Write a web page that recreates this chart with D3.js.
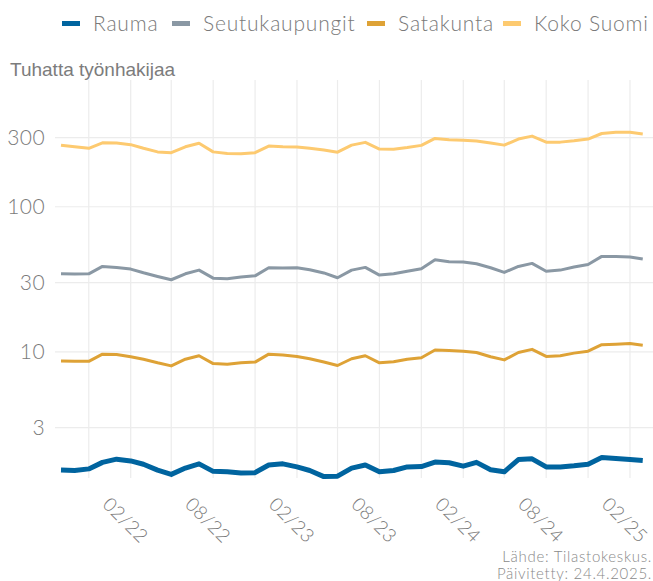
<!DOCTYPE html>
<html>
<head>
<meta charset="utf-8">
<script src="https://cdn.jsdelivr.net/npm/d3@7"></script>
<style>
  body { margin: 0; background: #fff; }
  text { font-family: Lato, "Open Sans", sans-serif; font-weight: 300; fill: #7a7a7a; }
</style>
</head>
<body>
<script>
// kuukaudet 09/2021 - 03/2025
const months = ["2021-09","2021-10","2021-11","2021-12","2022-01","2022-02","2022-03","2022-04","2022-05","2022-06","2022-07","2022-08",
  "2022-09","2022-10","2022-11","2022-12","2023-01","2023-02","2023-03","2023-04","2023-05","2023-06","2023-07","2023-08",
  "2023-09","2023-10","2023-11","2023-12","2024-01","2024-02","2024-03","2024-04","2024-05","2024-06","2024-07","2024-08",
  "2024-09","2024-10","2024-11","2024-12","2025-01","2025-02","2025-03"];

const rauma = [1.53,1.52,1.56,1.73,1.82,1.77,1.68,1.53,1.43,1.58,1.69,1.50,
  1.49,1.46,1.47,1.66,1.69,1.61,1.52,1.38,1.39,1.58,1.66,1.49,
  1.52,1.61,1.62,1.74,1.72,1.63,1.73,1.54,1.49,1.81,1.83,1.61,
  1.61,1.64,1.68,1.87,1.84,1.81,1.78];
const seutukaupungit = [34.5,34.4,34.5,38.8,38.2,37.2,35.1,33.1,31.4,34.5,36.6,32.2,
  31.9,32.8,33.4,38.0,37.8,38.0,36.8,35.0,32.4,36.6,38.2,33.8,
  34.5,35.9,37.4,43.1,41.8,41.6,40.5,38.0,35.3,38.8,40.7,35.9,
  36.6,38.4,40.0,45.5,45.5,45.0,43.6];
const satakunta = [8.64,8.6,8.6,9.64,9.6,9.25,8.9,8.4,8.0,8.9,9.4,8.3,
  8.2,8.4,8.5,9.64,9.5,9.3,8.96,8.5,8.05,8.96,9.4,8.4,
  8.55,8.9,9.1,10.3,10.2,10.1,9.9,9.25,8.8,9.9,10.4,9.3,
  9.4,9.8,10.1,11.2,11.3,11.4,11.1];
const kokoSuomi = [266,259,253,276,275,268,253,239,236,259,274,239,
  233,232,236,262,259,258,253,246,238,266,278,250,
  249,256,265,296,290,288,284,275,266,293,307,279,
  279,285,293,320,326,326,318];

const seriesNames = ["Rauma","Seutukaupungit","Satakunta","Koko Suomi"];
const seriesColors = ["#00649f","#8a98a4","#dea236","#fdca70"];
const yTicks = [3,10,30,100,300];

const W = 653, H = 581;
const parse = d3.timeParse("%Y-%m");
const dates = months.map(parse);

const svg = d3.select("body").append("svg").attr("width", W).attr("height", H);

const panel = {left: 55, right: 653, top: 80, bottom: 478};

const x = d3.scaleTime()
  .domain([parse("2021-09"), parse("2025-02")])
  .range([61, 630]);
const y = d3.scaleLog()
  .domain([1.35, 748])
  .range([panel.bottom, panel.top]);

// ruudukko
const gridDates = d3.timeMonth.range(parse("2021-11"), parse("2025-03"), 3);
svg.append("g").selectAll("line")
  .data(gridDates)
  .enter()
    .append("line")
    .attr("x1", d => x(d)).attr("x2", d => x(d))
    .attr("y1", panel.top).attr("y2", panel.bottom)
    .attr("stroke", "#ececec").attr("stroke-width", 1.2);

svg.append("g").selectAll("line")
  .data(yTicks)
  .enter()
    .append("line")
    .attr("x1", panel.left).attr("x2", panel.right)
    .attr("y1", d => y(d)).attr("y2", d => y(d))
    .attr("stroke", "#ececec").attr("stroke-width", 1.2);

// y-akselin tekstit
svg.append("g").selectAll("text")
  .data(yTicks)
  .enter()
    .append("text")
    .attr("x", 45).attr("y", d => y(d))
    .attr("dy", "0.36em")
    .attr("text-anchor", "end")
    .style("font-size", "21px")
    .style("letter-spacing", "0.4px")
    .text(d => d);

// x-akselin tekstit (02 ja 08)
const labelDates = gridDates.filter(d => d.getMonth() === 1 || d.getMonth() === 7);
svg.append("g").selectAll("text")
  .data(labelDates)
  .enter()
    .append("text")
    .attr("transform", d => "translate(" + (x(d) - 5) + ",520) rotate(45)")
    .attr("text-anchor", "middle")
    .attr("dy", "0.36em")
    .style("font-size", "19px")
    .style("letter-spacing", "0.5px")
    .text(d3.timeFormat("%m/%y"));

// viivat
const allSeries = [rauma, seutukaupungit, satakunta, kokoSuomi];
const line = d3.line()
  .x((d, i) => x(dates[i]))
  .y(d => y(d));

svg.append("g").selectAll("path")
  .data(allSeries.slice().reverse())
  .enter()
    .append("path")
    .attr("d", line)
    .attr("fill", "none")
    .attr("stroke", (d, i) => seriesColors[3 - i])
    .attr("stroke-width", (d, i) => i === 3 ? 5 : 3)
    .attr("stroke-linejoin", "round");

// otsikko
svg.append("text")
  .attr("x", 10).attr("y", 76)
  .style("font-family", "'Liberation Sans', Arial, sans-serif")
  .style("font-weight", 400)
  .style("font-size", "19px")
  .style("fill", "#7c7c7c")
  .text("Tuhatta työnhakijaa");

// selite
const legendX = [62, 172, 367, 503];
const leg = svg.append("g").selectAll("g")
  .data(seriesNames)
  .enter()
    .append("g")
    .attr("transform", (d, i) => "translate(" + legendX[i] + ",0)");
leg.append("rect")
  .attr("x", 0).attr("y", 21).attr("width", 18).attr("height", 5)
  .attr("fill", (d, i) => seriesColors[i]);
leg.append("text")
  .attr("x", 31).attr("y", 31)
  .style("font-size", "21px")
  .style("letter-spacing", "0.8px")
  .text(d => d);

// lähde
svg.append("text")
  .attr("x", 652).attr("y", 562)
  .attr("text-anchor", "end")
  .style("font-size", "15px")
  .style("letter-spacing", "0.7px")
  .style("fill", "#8a8a8a")
  .text("Lähde: Tilastokeskus.");
svg.append("text")
  .attr("x", 652).attr("y", 579)
  .attr("text-anchor", "end")
  .style("font-size", "15px")
  .style("letter-spacing", "0.7px")
  .style("fill", "#8a8a8a")
  .text("Päivitetty: 24.4.2025.");
</script>
</body>
</html>
